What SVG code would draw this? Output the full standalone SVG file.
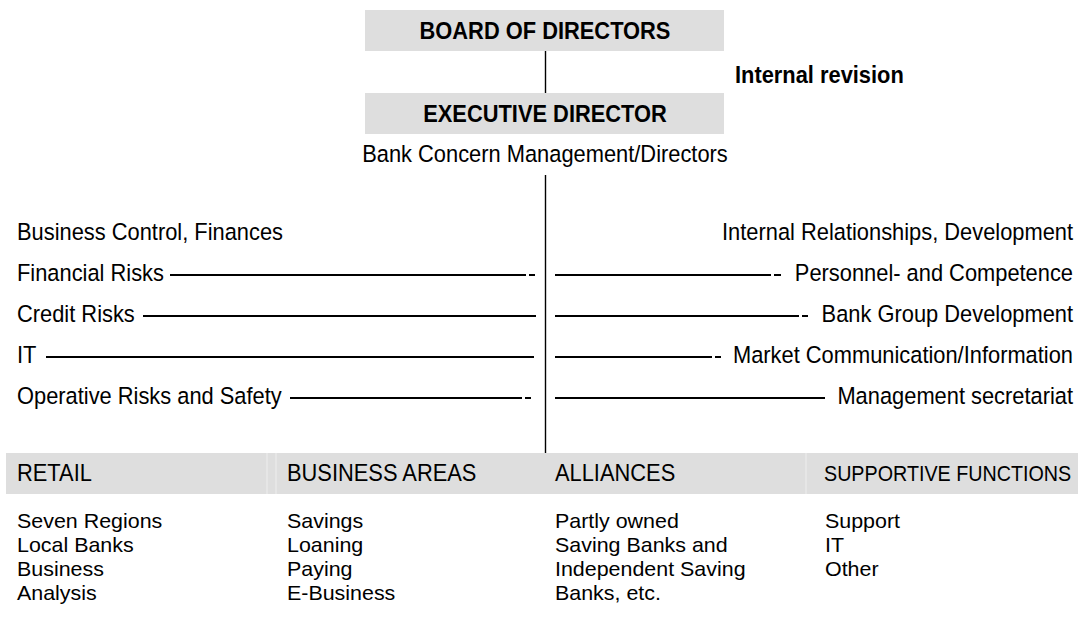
<svg xmlns="http://www.w3.org/2000/svg" width="1082" height="620" viewBox="0 0 1082 620">
  <style>
    text {
      font-family: "Liberation Sans", Arial, sans-serif;
      fill: #000;
      transform-box: fill-box;
      transform-origin: left center;
      transform: scaleX(0.93);
    }
    .t { font-size: 23.5px; }
    .b { font-size: 23.5px; font-weight: bold; }
    .s { font-size: 21.2px; }
    /* list entries under the area headers sit on a tight 24px pitch */
    .li { font-size: 20.8px; transform: scaleX(1.03); }
    .mid { text-anchor: middle; transform-origin: center center; }
    .end { text-anchor: end; transform-origin: right center; }
    .box { fill: #dedede; }
    .sep { stroke: #e9e9e9; stroke-width: 1.5; }
    .conn line { stroke: #000; stroke-width: 1.4; }
    .dash line { stroke: #000; stroke-width: 2; }
  </style>

  <!-- connectors: main vertical spine -->
  <g id="connectors" class="conn">
    <line x1="545.5" y1="51" x2="545.5" y2="93"/>
    <line x1="545.5" y1="175" x2="545.5" y2="453"/>
  </g>

  <!-- dash rules leading to the staff functions -->
  <g id="rules" class="dash">
    <line x1="170" y1="275" x2="526" y2="275"/>
    <line x1="529" y1="275" x2="535" y2="275"/>
    <line x1="143" y1="316" x2="536" y2="316"/>
    <line x1="46" y1="357" x2="534" y2="357"/>
    <line x1="290" y1="398" x2="522" y2="398"/>
    <line x1="525" y1="398" x2="531" y2="398"/>

    <line x1="555" y1="275" x2="771" y2="275"/>
    <line x1="774" y1="275" x2="781" y2="275"/>
    <line x1="555" y1="316" x2="799" y2="316"/>
    <line x1="802" y1="316" x2="808" y2="316"/>
    <line x1="555" y1="357" x2="712" y2="357"/>
    <line x1="715" y1="357" x2="721" y2="357"/>
    <line x1="555" y1="398" x2="825" y2="398"/>
  </g>

  <g id="board">
    <rect class="box" x="365" y="10" width="359" height="41"/>
    <text class="b mid" x="545" y="39">BOARD OF DIRECTORS</text>
  </g>

  <g id="internal-revision">
    <text class="b" x="735" y="83">Internal revision</text>
  </g>

  <g id="executive">
    <rect class="box" x="365" y="93" width="359" height="41"/>
    <text class="b mid" x="545" y="122">EXECUTIVE DIRECTOR</text>
  </g>

  <g id="management">
    <text class="t mid" x="545" y="162">Bank Concern Management/Directors</text>
  </g>

  <g id="staff-left">
    <text class="t" x="17" y="240">Business Control, Finances</text>
    <text class="t" x="17" y="281">Financial Risks</text>
    <text class="t" x="17" y="322">Credit Risks</text>
    <text class="t" x="17" y="363">IT</text>
    <text class="t" x="17" y="404">Operative Risks and Safety</text>
  </g>

  <g id="staff-right">
    <text class="t end" x="1073" y="240">Internal Relationships, Development</text>
    <text class="t end" x="1073" y="281">Personnel- and Competence</text>
    <text class="t end" x="1073" y="322">Bank Group Development</text>
    <text class="t end" x="1073" y="363">Market Communication/Information</text>
    <text class="t end" x="1073" y="404">Management secretariat</text>
  </g>

  <!-- header band for the four areas -->
  <g id="area-band">
    <rect class="box" x="6" y="453" width="1072" height="41"/>
    <line class="sep" x1="267" y1="453" x2="267" y2="494"/>
    <line class="sep" x1="276" y1="453" x2="276" y2="494"/>
    <line class="sep" x1="806" y1="453" x2="806" y2="494"/>
  </g>

  <g id="retail">
    <text class="t" x="17" y="481">RETAIL</text>
    <text class="li" x="17" y="528">Seven Regions</text>
    <text class="li" x="17" y="552">Local Banks</text>
    <text class="li" x="17" y="576">Business</text>
    <text class="li" x="17" y="600">Analysis</text>
  </g>

  <g id="business-areas">
    <text class="t" x="287" y="481">BUSINESS AREAS</text>
    <text class="li" x="287" y="528">Savings</text>
    <text class="li" x="287" y="552">Loaning</text>
    <text class="li" x="287" y="576">Paying</text>
    <text class="li" x="287" y="600">E-Business</text>
  </g>

  <g id="alliances">
    <text class="t" x="555" y="481">ALLIANCES</text>
    <text class="li" x="555" y="528">Partly owned</text>
    <text class="li" x="555" y="552">Saving Banks and</text>
    <text class="li" x="555" y="576">Independent Saving</text>
    <text class="li" x="555" y="600">Banks, etc.</text>
  </g>

  <g id="supportive">
    <text class="s" x="824" y="481">SUPPORTIVE FUNCTIONS</text>
    <text class="li" x="825" y="528">Support</text>
    <text class="li" x="825" y="552">IT</text>
    <text class="li" x="825" y="576">Other</text>
  </g>
</svg>
